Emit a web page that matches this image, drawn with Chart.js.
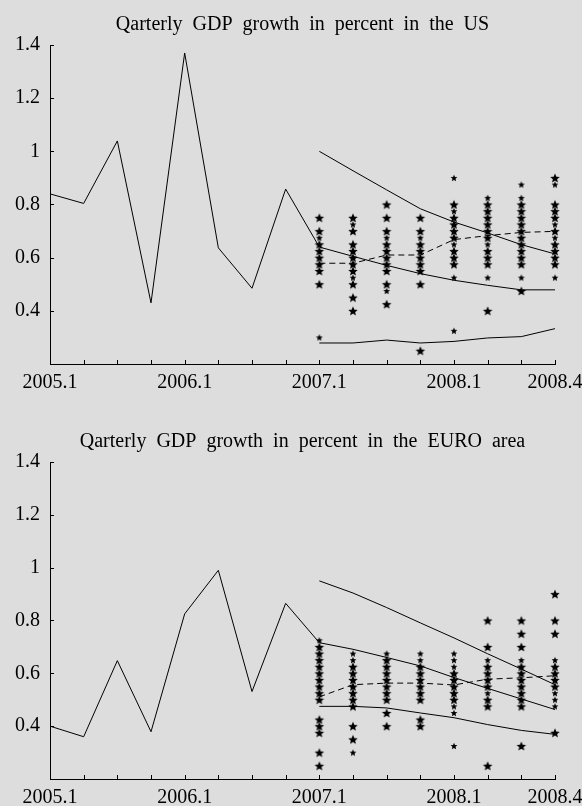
<!DOCTYPE html>
<html>
<head>
<meta charset="utf-8">
<script src="https://cdn.jsdelivr.net/npm/chart.js@4"></script>
<style>
	html, body { margin: 0; padding: 0; background: #dddddd; }
	.box { position: absolute; left: 0; width: 582px; }
	#top { top: 0; height: 400px; }
	#bot { top: 400px; height: 406px; }
</style>
</head>
<body>
<div class="box" id="top"><canvas id="chart-us"></canvas></div>
<div class="box" id="bot"><canvas id="chart-eu"></canvas></div>
<script>
	// Quarters on the x axis; only some get a label.
	var QUARTERS = ["2005.1", "2005.2", "2005.3", "2005.4", "2006.1", "2006.2", "2006.3", "2006.4",
		"2007.1", "2007.2", "2007.3", "2007.4", "2008.1", "2008.2", "2008.3", "2008.4"]
	var SHOWN = ["2005.1", "2006.1", "2007.1", "2008.1", "2008.4"]
	var HIST_Q = QUARTERS.slice(0, 9)
	var FORECAST_Q = QUARTERS.slice(8)

	// US: realised growth, forecast bands, mean of forecasts
	var US_HIST = [0.84, 0.804, 1.039, 0.43, 1.37, 0.637, 0.485, 0.858, 0.64]
	var US_UPPER = [1.0, 0.927, 0.855, 0.784, 0.734, 0.693, 0.649, 0.614]
	var US_MID = [0.64, 0.605, 0.571, 0.54, 0.515, 0.496, 0.479, 0.479]
	var US_LOW = [0.279, 0.279, 0.29, 0.279, 0.285, 0.298, 0.303, 0.333]
	var US_MEAN = [0.579, 0.579, 0.61, 0.61, 0.668, 0.683, 0.695, 0.699]
	// individual forecasts, one list per forecast quarter
	var US_STARS_BIG = [
		[0.75, 0.70, 0.65, 0.625, 0.60, 0.575, 0.55, 0.50],
		[0.75, 0.70, 0.65, 0.625, 0.60, 0.575, 0.55, 0.50, 0.45, 0.40],
		[0.80, 0.75, 0.70, 0.65, 0.625, 0.60, 0.575, 0.55, 0.50, 0.425],
		[0.75, 0.70, 0.65, 0.625, 0.60, 0.575, 0.55, 0.50, 0.25],
		[0.80, 0.75, 0.725, 0.70, 0.675, 0.625, 0.60, 0.575],
		[0.80, 0.775, 0.75, 0.725, 0.70, 0.675, 0.625, 0.60, 0.575, 0.40],
		[0.80, 0.775, 0.75, 0.725, 0.70, 0.675, 0.65, 0.625, 0.60, 0.575, 0.475],
		[0.90, 0.80, 0.775, 0.75, 0.70, 0.65, 0.625, 0.60, 0.575],
	]
	var US_STARS_SMALL = [
		[0.675, 0.30],
		[0.725, 0.525],
		[0.675, 0.475],
		[0.675],
		[0.90, 0.775, 0.65, 0.525, 0.325],
		[0.825, 0.65, 0.525],
		[0.875, 0.825, 0.525],
		[0.875, 0.725, 0.675, 0.525],
	]

	// EURO area
	var EU_HIST = [0.40, 0.36, 0.648, 0.379, 0.825, 0.99, 0.531, 0.865, 0.716]
	var EU_UPPER = [0.95, 0.904, 0.849, 0.791, 0.734, 0.674, 0.616, 0.557]
	var EU_MID = [0.716, 0.691, 0.66, 0.628, 0.584, 0.543, 0.503, 0.463]
	var EU_LOW = [0.475, 0.475, 0.469, 0.45, 0.432, 0.406, 0.384, 0.369]
	var EU_MEAN = [0.511, 0.557, 0.563, 0.563, 0.556, 0.578, 0.583, 0.591]
	var EU_STARS_BIG = [
		[0.70, 0.675, 0.65, 0.625, 0.60, 0.575, 0.55, 0.525, 0.50, 0.425, 0.40, 0.375, 0.30, 0.25],
		[0.625, 0.60, 0.575, 0.55, 0.525, 0.50, 0.475, 0.40, 0.35],
		[0.65, 0.625, 0.60, 0.575, 0.55, 0.525, 0.50, 0.45, 0.40],
		[0.625, 0.60, 0.575, 0.55, 0.525, 0.50, 0.425, 0.40],
		[0.60, 0.575, 0.55, 0.525, 0.50],
		[0.80, 0.70, 0.625, 0.60, 0.575, 0.55, 0.50, 0.475, 0.25],
		[0.80, 0.75, 0.70, 0.625, 0.60, 0.575, 0.55, 0.525, 0.50, 0.475, 0.325],
		[0.90, 0.80, 0.75, 0.625, 0.60, 0.575, 0.55, 0.375],
	]
	var EU_STARS_SMALL = [
		[0.725],
		[0.675, 0.65, 0.30],
		[0.675],
		[0.675, 0.65],
		[0.675, 0.65, 0.625, 0.475, 0.45, 0.325],
		[0.65, 0.525],
		[0.65],
		[0.65, 0.525, 0.50, 0.475],
	]

	var SERIF = '"Liberation Serif", "Times New Roman", serif'
	Chart.defaults.font.family = SERIF
	Chart.defaults.font.size = 20
	Chart.defaults.color = "#000"

	// filled five-pointed star used as point marker
	function makeStar(r) {
		var size = Math.ceil(r * 2) + 2
		var c = document.createElement("canvas")
		c.width = size
		c.height = size
		var g = c.getContext("2d")
		g.translate(size / 2, size / 2 + r * 0.1)
		g.beginPath()
		for (var i = 0; i < 10; i++) {
			var rad = i % 2 === 0 ? r : r * 0.45
			var a = -Math.PI / 2 + (i * Math.PI) / 5
			g.lineTo(Math.cos(a) * rad, Math.sin(a) * rad)
		}
		g.closePath()
		g.fillStyle = "#000"
		g.fill()
		return c
	}
	var STAR_BIG = makeStar(5)
	var STAR_SMALL = makeStar(3.6)

	function pts(qs, vals) {
		return vals.map(function (v, i) {
			return { x: qs[i], y: v }
		})
	}
	function starPts(cols) {
		var out = []
		cols.forEach(function (col, i) {
			col.forEach(function (v) {
				out.push({ x: FORECAST_Q[i], y: v })
			})
		})
		return out
	}

	// tick marks pointing into the plot
	var innerTicks = {
		id: "innerTicks",
		afterDraw: function (chart) {
			var ctx = chart.ctx
			var area = chart.chartArea
			var xs = chart.scales.x
			var ys = chart.scales.y
			ctx.save()
			ctx.strokeStyle = "#000"
			ctx.lineWidth = 1
			ctx.beginPath()
			xs.ticks.forEach(function (t, i) {
				var px = Math.round(xs.getPixelForTick(i)) + 0.5
				ctx.moveTo(px, area.bottom)
				ctx.lineTo(px, area.bottom - 4)
			})
			ys.ticks.forEach(function (t, i) {
				if (t.value < 0.3) return
				var py = Math.round(ys.getPixelForTick(i)) + 0.5
				ctx.moveTo(area.left, py)
				ctx.lineTo(area.left + 4, py)
			})
			ctx.stroke()
			ctx.restore()
		},
	}

	function line(data, dashed) {
		return {
			type: "line",
			data: data,
			borderColor: "#000",
			borderWidth: 1,
			borderDash: dashed ? [6, 4] : [],
			pointRadius: 0,
			tension: 0,
			fill: false,
		}
	}
	function stars(data, img) {
		return {
			type: "scatter",
			data: data,
			pointStyle: img,
			pointRadius: 5,
			clip: false,
		}
	}

	function build(id, title, titlePad, xHeight, hist, upper, mid, low, mean, big, small) {
		new Chart(document.getElementById(id), {
			data: {
				labels: QUARTERS,
				datasets: [
					stars(starPts(big), STAR_BIG),
					stars(starPts(small), STAR_SMALL),
					line(pts(HIST_Q, hist)),
					line(pts(FORECAST_Q, upper)),
					line(pts(FORECAST_Q, mid)),
					line(pts(FORECAST_Q, low)),
					line(pts(FORECAST_Q, mean), true),
				],
			},
			options: {
				responsive: true,
				maintainAspectRatio: false,
				animation: false,
				events: [],
				plugins: {
					legend: { display: false },
					tooltip: { enabled: false },
					title: {
						display: true,
						text: title,
						fullSize: false,
						color: "#000",
						font: { family: SERIF, size: 20, weight: "normal", lineHeight: 1.2 },
						padding: titlePad,
					},
				},
				scales: {
					x: {
						type: "category",
						offset: false,
						grid: { display: false, drawTicks: false },
						border: { display: true, color: "#000", width: 1 },
						ticks: {
							autoSkip: false,
							maxRotation: 0,
							padding: 7,
							callback: function (v) {
								var lab = QUARTERS[v]
								return SHOWN.indexOf(lab) >= 0 ? lab : ""
							},
						},
						afterFit: function (s) {
							s.height = xHeight
							s.paddingRight = 27
						},
					},
					y: {
						min: 0.2,
						max: 1.4,
						grid: { display: false, drawTicks: false },
						border: { display: true, color: "#000", width: 1 },
						ticks: {
							stepSize: 0.2,
							padding: 10,
							callback: function (v) {
								if (v < 0.3) return ""
								return String(Math.round(v * 10) / 10)
							},
						},
						afterFit: function (s) {
							s.width = 50
						},
					},
				},
			},
			plugins: [innerTicks],
		})
	}

	build("chart-us", "Qarterly  GDP  growth  in  percent  in  the  US", { top: 13, bottom: 8 }, 36,
		US_HIST, US_UPPER, US_MID, US_LOW, US_MEAN, US_STARS_BIG, US_STARS_SMALL)
	build("chart-eu", "Qarterly  GDP  growth  in  percent  in  the  EURO  area", { top: 30, bottom: 8 }, 27,
		EU_HIST, EU_UPPER, EU_MID, EU_LOW, EU_MEAN, EU_STARS_BIG, EU_STARS_SMALL)
</script>
</body>
</html>
